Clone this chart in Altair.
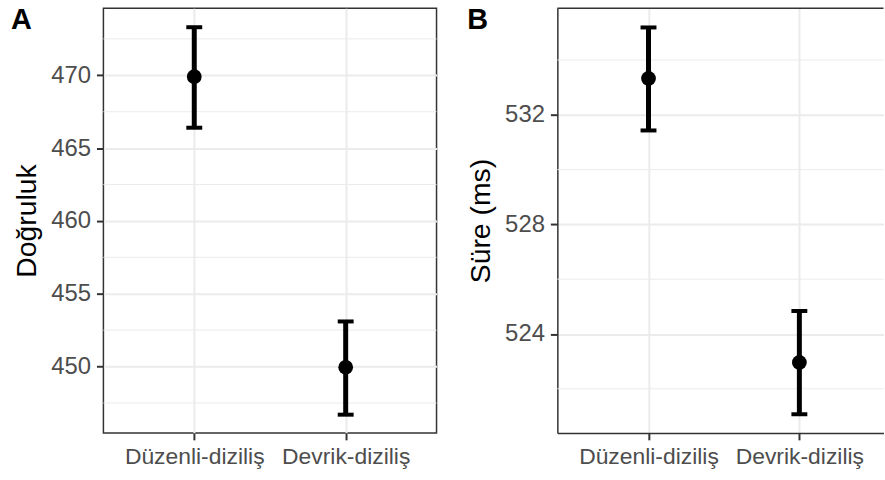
import altair as alt
import pandas as pd

# ---- data ----
categories = ["Düzenli-diziliş", "Devrik-diziliş"]

acc_mean = [469.9, 449.95]
acc_low = [466.4, 446.7]
acc_high = [473.3, 453.1]

rt_mean = [533.33, 522.96]
rt_low = [531.43, 521.07]
rt_high = [535.19, 524.84]

acc_ticks = [450, 455, 460, 465, 470]
acc_minor = [447.5, 452.5, 457.5, 462.5, 467.5, 472.5]
acc_domain = [445.45, 474.6]

rt_ticks = [524, 528, 532]
rt_minor = [522, 526, 530, 534]
rt_domain = [520.39, 535.89]

FONT = "Liberation Sans"
DARK = "#333333"
GRID = "#ebebeb"


def panel(tag, means, lows, highs, ticks, minor, domain, ytitle, width,
          xpad, xalign, border, tag_x):
    df = pd.DataFrame({"cond": categories, "m": means, "lo": lows, "hi": highs})
    minor_df = pd.DataFrame({"v": minor})
    tag_df = pd.DataFrame({"t": [tag]})

    xscale = alt.Scale(type="point", domain=categories, padding=xpad, align=xalign)
    yscale = alt.Scale(domain=domain, nice=False, zero=False)
    xaxis = alt.Axis(title=None, labelAngle=0, grid=True, domain=not border,
                     labelPadding=6, labelFontSize=23)
    yaxis = alt.Axis(title=ytitle, values=ticks, grid=True, domain=not border,
                     titlePadding=9, labelPadding=6, labelFontSize=24)

    def X():
        return alt.X("cond:N", scale=xscale, sort=categories, axis=xaxis)

    def Y(f):
        return alt.Y(f, scale=yscale, axis=yaxis)

    minor_grid = alt.Chart(minor_df).mark_rule(color=GRID, strokeWidth=1).encode(
        y=Y("v:Q")
    )
    bars = alt.Chart(df).mark_rule(color="black", strokeWidth=5).encode(
        x=X(), y=Y("lo:Q"), y2="hi:Q"
    )
    caps = alt.Chart(df).transform_fold(["lo", "hi"], as_=["k", "v"]).mark_tick(
        color="black", size=16, thickness=4, opacity=1
    ).encode(x=X(), y=Y("v:Q"))
    pts = alt.Chart(df).mark_circle(color="black", size=220, opacity=1).encode(
        x=X(), y=Y("m:Q")
    )
    tag_txt = alt.Chart(tag_df).mark_text(
        font=FONT, fontSize=29, fontWeight="bold", align="left",
        baseline="alphabetic", color="black"
    ).encode(text="t:N", x=alt.value(tag_x), y=alt.value(21.3))

    layers = [minor_grid, bars, caps, pts, tag_txt]
    if not border:
        top = alt.Chart(tag_df).mark_rule(color=DARK, strokeWidth=1.5).encode(
            y=alt.value(0)
        )
        layers.append(top)

    ch = alt.layer(*layers).properties(width=width, height=427)
    if border:
        ch = ch.properties(view=alt.ViewBackground(stroke=DARK, strokeWidth=1.5))
    else:
        ch = ch.properties(view=alt.ViewBackground(strokeWidth=0, stroke="transparent"))
    return ch


pa = panel("A", acc_mean, acc_low, acc_high, acc_ticks, acc_minor, acc_domain,
           "Doğruluk", 335, 0.6, 0.5, True, -93)
pb = panel("B", rt_mean, rt_low, rt_high, rt_ticks, rt_minor, rt_domain,
           "Süre (ms)", 328, 0.581, 0.52, False, -90.7)

chart = alt.hconcat(pa, pb, spacing=27.5).properties(
    padding={"left": 10, "top": 4, "right": 0, "bottom": 0},
    background="white",
).configure_axis(
    labelFont=FONT, labelColor="#4d4d4d",
    titleFont=FONT, titleFontSize=28.5, titleColor="black", titleFontWeight="normal",
    tickColor=DARK, tickSize=7, tickWidth=2,
    gridColor=GRID, gridWidth=2,
    domainColor=DARK, domainWidth=1.5,
).configure_concat(spacing=27.5)

chart.save("out.html", embed_options={"renderer": "svg", "actions": False})
